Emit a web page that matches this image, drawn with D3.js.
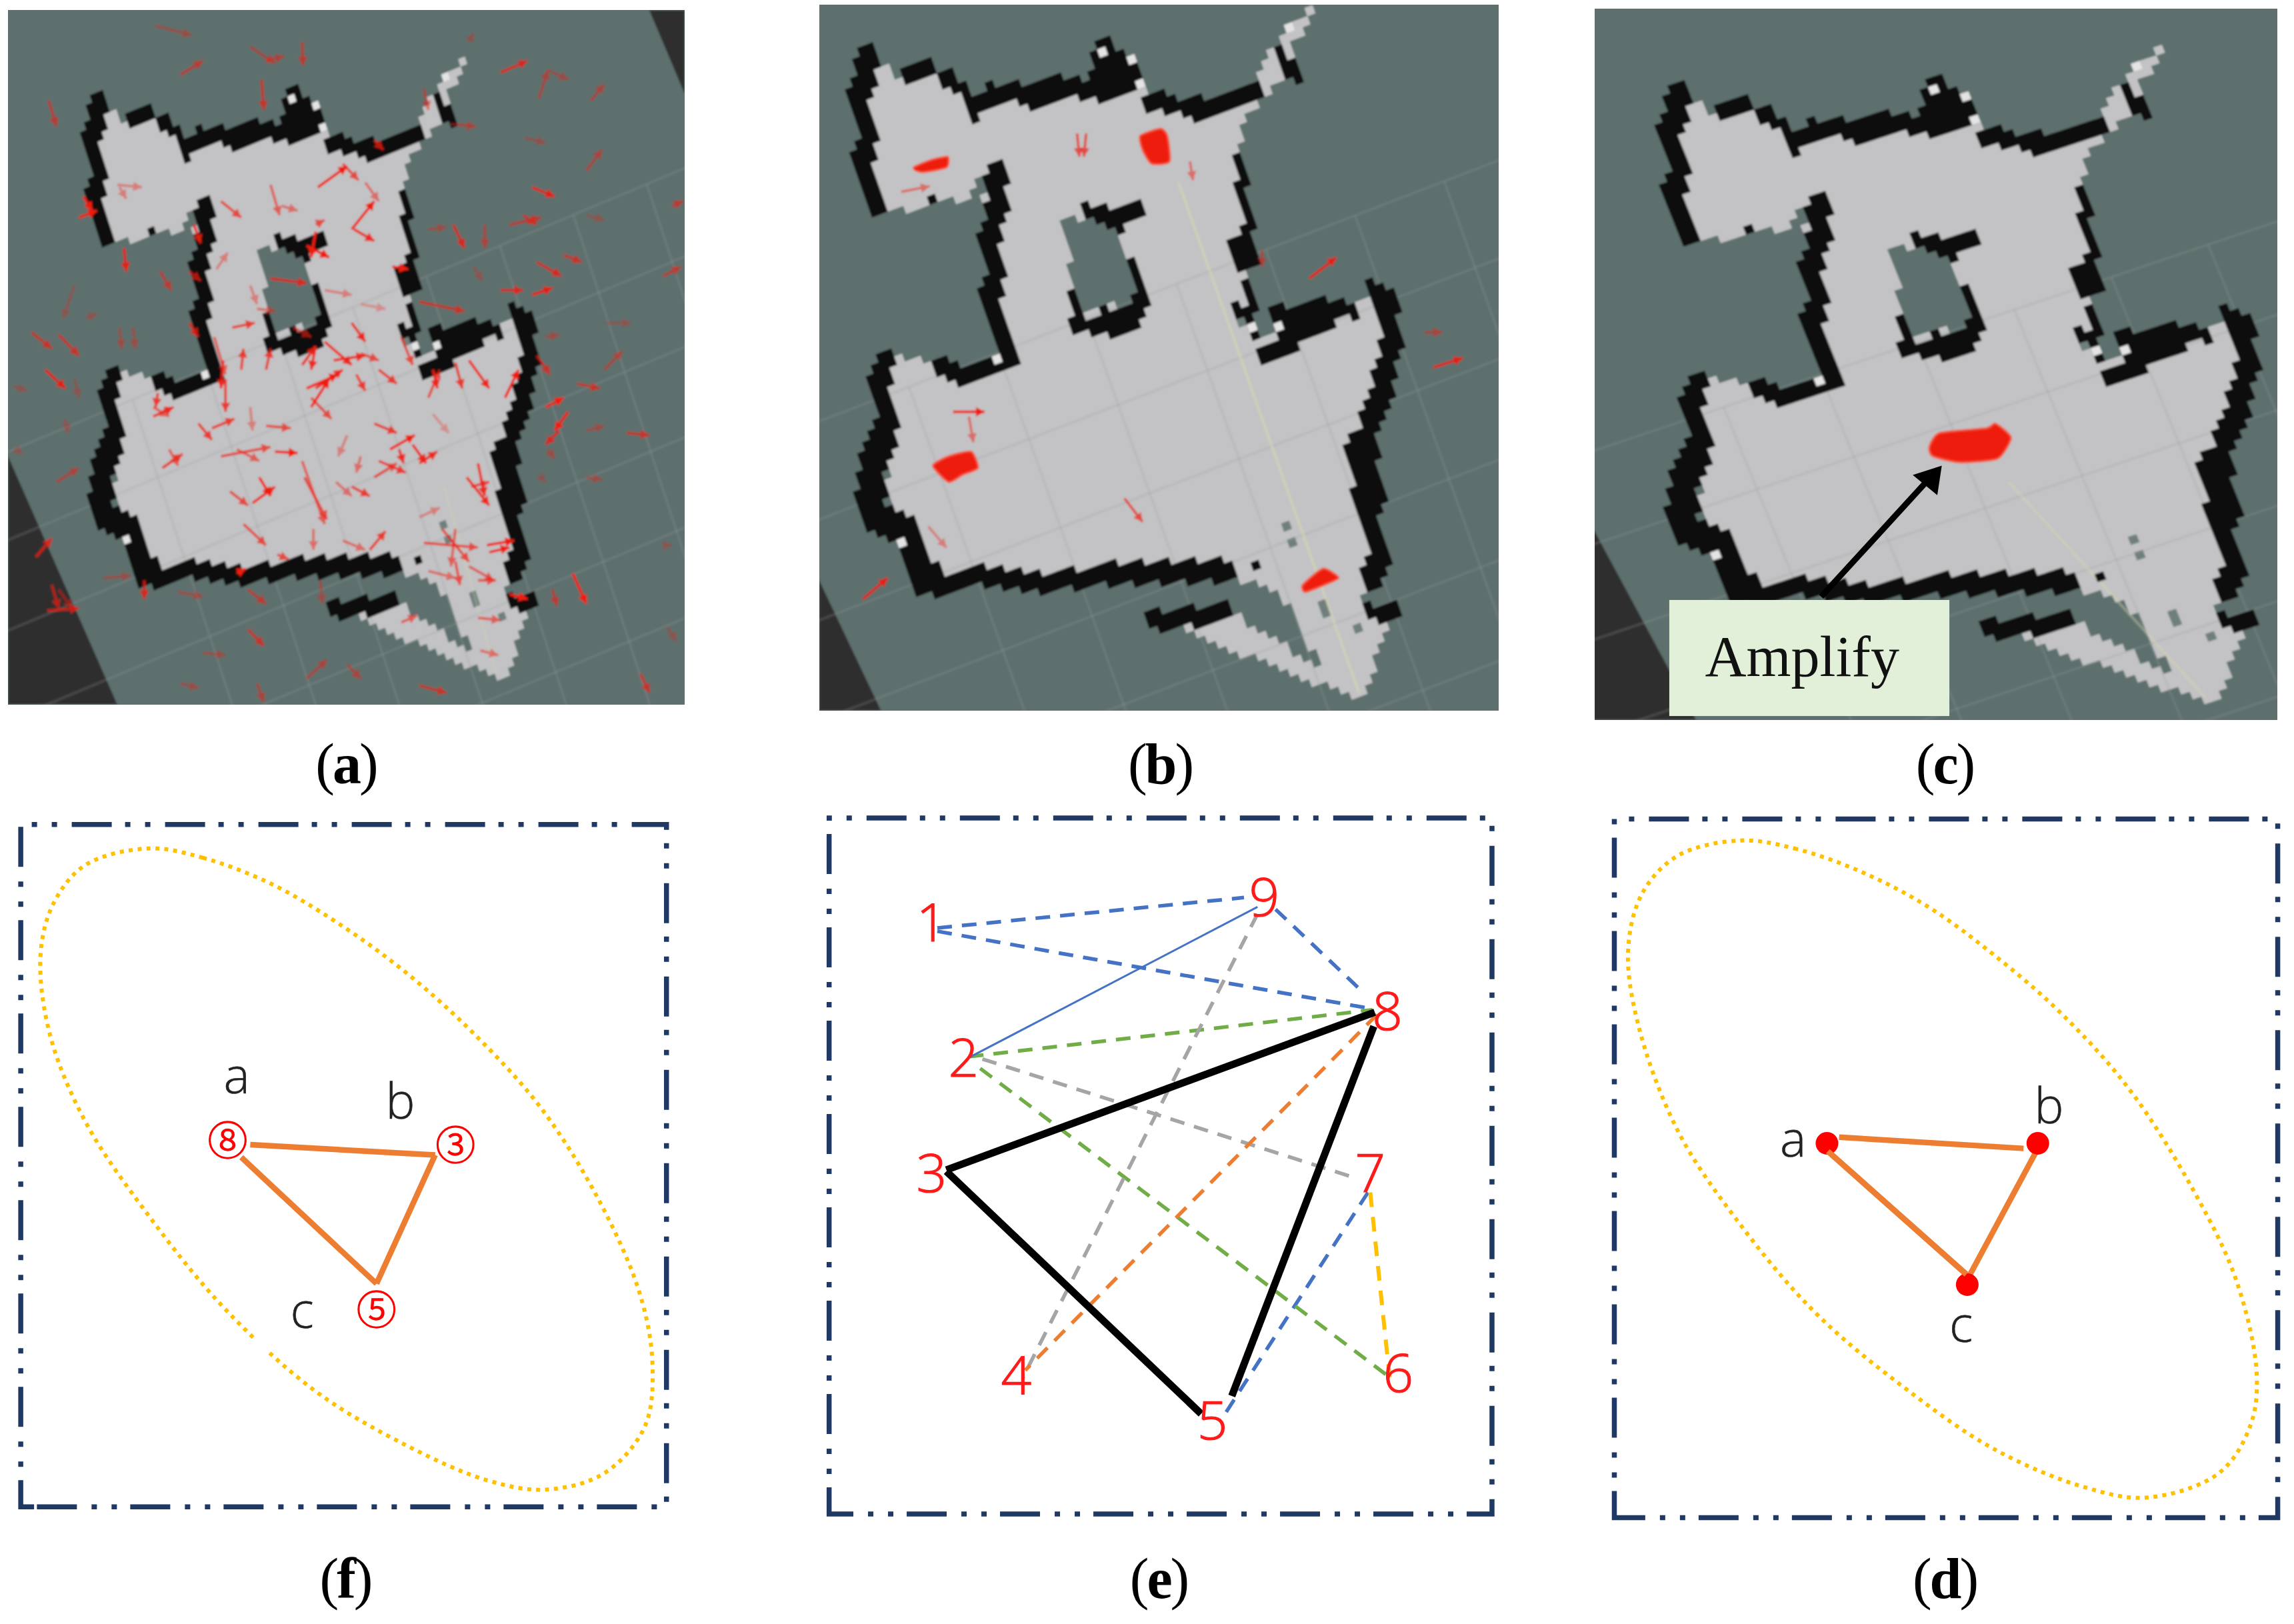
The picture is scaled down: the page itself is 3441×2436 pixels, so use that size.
<!DOCTYPE html>
<html>
<head>
<meta charset="utf-8">
<title>Particle filter localization</title>
<script src="https://cdn.jsdelivr.net/npm/d3@7"></script>
<style>
  body { margin: 0; background: #fff; }
  text { font-family: "Open Sans", "Noto Sans", sans-serif; font-weight: 300; }
  .caption { font-family: "Liberation Serif", serif; font-weight: 400; fill: #000; font-size: 86px; letter-spacing: -3px; }
  .caption .letter { font-weight: 700; }
</style>
</head>
<body>
<div id="chart"></div>
<script>
// ---- map, in crop pixels ----
const floorOutline = [[122,112],[195,170],[280,150],[345,205],[360,238],[470,212],[620,188],[735,195],[840,235],[970,195],[1015,110],[1095,18],[1110,25],[1065,90],[1065,160],[985,215],[960,260],[930,340],[955,470],[975,660],[985,720],[1210,640],[1250,640],[1275,800],[1215,930],[1240,1100],[1225,1240],[1220,1300],[1280,1320],[1215,1495],[1195,1490],[790,1335],[915,1300],[1130,1435],[1040,1270],[915,1225],[255,1240],[170,1060],[150,900],[165,757],[245,775],[300,800],[420,760],[370,360],[350,420],[175,452],[120,330]];
const islandHole = [[555,470],[620,460],[660,490],[710,560],[712,640],[600,672],[590,630],[555,520]];
const wallsThick = [
  [[110,112],[88,210],[112,270],[92,350],[122,430]],
  [[392,355],[396,440],[372,520],[392,580],[372,640],[400,700],[418,765]],
  [[410,775],[300,795],[270,775]],
  [[150,765],[132,820],[155,900],[125,1000],[130,1090],[190,1115],[232,1190],[258,1240]],
  [[245,1245],[370,1225],[510,1240],[640,1220],[780,1215],[905,1212]],
  [[1240,615],[1272,710],[1250,830],[1212,930],[1232,1060],[1210,1085],[1248,1180],[1222,1235]],
  [[630,105],[630,185]],[[665,125],[665,180]],[[695,130],[700,175]],
  [[990,745],[1135,685]],[[1020,672],[1110,655]],
  [[470,205],[560,175]],[[840,225],[975,195]]
];
const wallsHeavy = [
  [[155,900],[125,1000],[130,1090]],
  [[130,1095],[190,1120],[232,1195],[250,1240]],
  [[1208,930],[1228,1060]]
];
const wallsThin = [
  [[202,160],[250,145]],[[292,160],[340,190]],
  [[350,228],[390,190],[420,195],[560,172],[610,182]],
  [[740,205],[830,225],[975,195]],
  [[1040,110],[1060,150]],[[935,330],[965,470]],
  [[920,525],[950,500],[972,550],[940,545],[920,525]],
  [[958,600],[975,632]],[[945,650],[965,700]],[[1160,655],[1195,650]],
  [[595,440],[680,462],[718,440]],[[715,565],[730,600],[715,650]],
  [[580,635],[592,665],[570,682],[640,692],[720,682]],[[640,672],[712,660]],
  [[745,1320],[820,1312],[910,1300]],[[1225,1300],[1285,1302]],[[1240,610],[1285,640]]
];
const wallDots = [[975,1210],[262,430],[635,95]];
const whiteCells = [[645,115],[702,130],[730,185],[200,1160],[410,770],[1035,690],[975,690],[1060,60]];
const greyCells = [[1060,1130],[1060,1155],[1135,1295],[1135,1315],[1205,1350],[935,655],[945,680]];

// grid lines of the floor plan, y = c - .37x and x = d + .37y
const gridRows = [905,1115,1330,1545,1760,1975,2190];
const gridCols = [-94,131,356,581,806,1031,1256,1481];

// red particles, x1,y1,x2,y2,strength, panel crop pixels
const particlesA = [
[345,55,425,75,.4],[555,100,610,135,.5],[590,130,630,120,.5],[670,90,672,140,.6],[400,160,450,130,.6],[580,170,585,235,.7],
[108,215,125,270,.6],[1110,155,1170,130,.8],[1195,210,1215,150,.5],[1215,150,1260,170,.4],[1310,215,1340,180,.5],[1165,295,1210,305,.35],[1300,365,1335,320,.5],[1180,400,1230,420,.9],[1000,265,1055,270,.5],[940,190,950,235,.5],[1040,90,1050,70,.3],
[1490,440,1515,430,.6],[1470,590,1510,570,.6],[1300,460,1340,470,.3],[1130,480,1200,465,.6],[1160,460,1190,480,.7],[950,490,990,485,.4],[1005,480,1030,530,.8],[1075,480,1075,530,.5],[1250,545,1290,560,.7],[1190,560,1245,590,.8],[1110,620,1160,620,.8],[1180,630,1225,615,.9],[1050,570,1070,600,.3],[930,645,1030,665,.7],[1210,720,1240,715,.4],[1345,690,1400,690,.3],[1190,760,1220,800,.7],[1340,790,1380,750,.5],[1280,820,1330,830,.7],[1210,870,1250,850,1],[1260,880,1230,920,1],[1240,920,1210,950,.8],[1300,920,1340,910,.4],[1390,925,1440,930,.7],[1215,960,1230,980,.4],[1300,1020,1335,1025,.4],[1200,1020,1210,1030,.3],[1470,1165,1490,1165,.3],[1270,1225,1300,1290,1],[1225,1260,1235,1295,.6],[1130,1270,1170,1280,1],[1420,1440,1440,1480,.7],[1480,1340,1500,1370,.3],
[165,610,140,680,.3],[190,680,215,670,.3],[70,710,115,745,.7],[130,715,175,760,.7],[100,790,145,830,.9],[30,825,60,835,.3],[165,810,175,850,.3],[145,895,150,925,.3],[265,700,270,745,.4],[295,700,300,745,.4],[275,530,280,580,.9],[355,580,380,620,.6],[125,1030,175,1000,.5],[35,960,50,970,.3],[80,1190,115,1150,.8],[115,1250,130,1300,.7],[105,1305,175,1300,.8],[130,1260,160,1300,.5],
[230,1235,290,1230,.4],[320,1240,320,1280,.8],[395,1265,450,1275,.4],[550,1260,590,1290,.6],[550,1345,585,1380,.7],[450,1395,500,1400,.4],[680,1450,725,1410,.5],[770,1420,800,1450,.5],[400,1460,440,1470,.4],[570,1460,585,1500,.5],[930,1465,990,1480,.7],[710,1240,715,1290,.4],
[265,400,280,425,.4],[260,395,315,400,.4],[175,465,215,450,1],[185,420,205,450,1],
[490,430,535,465,.7],[600,395,620,460,.6],[625,440,660,450,.5],[705,400,770,355,1],[760,350,795,385,.7],[810,390,840,430,.5],[780,490,830,430,1],[785,490,830,515,.9],[700,480,720,470,.7],[680,525,730,550,1],[700,495,690,550,1],[480,575,505,540,.4],[430,480,445,520,.9],[420,580,445,600,.7],[600,595,680,605,.8],[555,610,570,650,.4],[720,620,780,630,.4],[800,650,855,660,.3],[570,660,610,665,.5],[515,700,565,690,.8],[420,690,440,720,.8],
[475,720,500,800,.6],[495,770,490,830,.9],[500,810,500,880,.8],[535,790,540,745,.8],[590,790,600,745,.8],[650,700,690,720,.6],[670,780,700,740,.9],[700,740,690,790,.9],[720,730,780,780,.9],[740,770,810,760,.9],[780,690,810,730,.9],[800,755,840,770,.7],[840,790,880,820,.8],[790,800,810,835,.8],[680,830,750,800,1],[700,830,760,790,.9],[690,870,730,810,1],[690,850,735,895,.7],[890,720,915,780,.7],[960,790,970,830,.9],[1010,775,1025,830,.8],[1040,770,1085,830,.9],[1120,850,1150,790,1],[950,850,975,790,.7],[350,840,345,870,.8],[340,890,385,870,.9],[340,870,375,890,.6],[440,905,470,940,.8],[470,915,520,895,.8],[555,870,560,920,.4],[590,910,645,915,.7],[770,930,750,975,.4],
[490,975,600,955,.7],[525,960,575,985,.6],[610,965,660,968,1],[360,1000,405,970,.8],[375,960,395,995,.6],[670,985,720,1120,.6],[675,1020,725,1110,.7],[830,905,880,925,.8],[865,960,920,930,1],[885,960,895,990,.9],[915,950,945,990,.9],[930,990,970,965,.9],[960,885,995,925,.3],[800,975,790,1010,.5],[840,985,900,1010,.8],[830,1020,880,990,.7],[745,1030,780,1060,.5],[780,1040,820,1060,.8],[1035,1020,1085,1080,.9],[1060,990,1075,1060,.9],[1045,1040,1085,1030,.8],[510,1050,550,1080,.7],[575,1020,600,1060,1],[560,1075,610,1040,.9],[695,1130,695,1175,.5],[540,1120,590,1165,.7],[930,1105,975,1085,.4],[760,1155,810,1175,.5],[820,1175,855,1135,.8],[615,1185,640,1195,.7],[525,1225,545,1215,1],
[940,1160,1060,1170,.7],[980,1130,1040,1200,.7],[1010,1130,1000,1210,.6],[1080,1165,1140,1155,1],[950,1220,1010,1235,.5],[1010,1200,1020,1250,.7],[1040,1210,1095,1240,.6],[1060,1240,1100,1240,.7],[1060,1320,1110,1325,.6],[890,1330,925,1315,.6],[1065,1390,1105,1400,.5],[1085,1180,1130,1170,1],[870,570,905,575,1],[830,300,850,320,.8]
];
const particlesB = [[195,410,258,398,.5],[225,362,295,345,1],[585,285,590,335,.7],[605,285,600,335,.7],[835,345,842,385,.5],[995,535,995,570,.5],[1100,595,1160,550,.9],[1355,710,1395,710,.5],[1375,785,1440,765,.9],[310,880,380,880,1],[345,890,355,945,.5],[690,1065,730,1115,.7],[255,1125,295,1170,.4],[110,1280,165,1235,.9]];
const particlesC = [];

const blobsB = [
  [[725,290],[770,275],[785,290],[790,345],[750,350],[730,320]],
  [[265,995],[300,975],[350,965],[365,1000],[330,1015],[300,1030]],
  [[1085,1250],[1130,1215],[1165,1235],[1120,1255],[1090,1265]],
  [[222,358],[260,342],[298,335],[295,358],[240,368]]
];
const blobsC = [[[752,955],[775,925],[880,915],[900,905],[935,935],[905,980],[820,988],[760,975]]];

// ---- the three bottom diagrams ----
const nodeLabels = ["1","2","3","4","5","6","7","8","9"];
const nodeX = [262,333,262,450,885,1297,1235,1273,1000];
const nodeY = [233,522,768,1200,1297,1195,768,422,178];
const dashedBlue = [[275,245,955,180],[275,252,1240,418],[1025,205,1222,385],[1230,810,915,1280]];
const dashedGreen = [[345,520,1240,420],[370,545,1285,1210]];
const dashedGrey = [[375,525,1205,780],[985,215,465,1205]];
const dashedOrange = [[1250,430,470,1190]];
const dashedYellow = [[1235,810,1278,1205]];
const solidBlue = [[345,522,985,200]];
const solidBlack = [[295,762,1245,425],[295,765,860,1283],[1243,455,928,1245]];

const triangleF = [[555,708,965,730],[965,730,835,1005],[835,1005,535,735]];
const triangleD = [[550,692,963,716],[990,725,835,1000],[835,985,525,722]];
const circledF = [["⑧",505,700],["③",1010,710],["⑤",835,1062]];
const lettersF = [["a",525,560],["b",888,615],["c",670,1062]];
const dotsD = [[523,705],[995,705],[837,1007]];
const lettersD = [["a",447,695],["b",1020,625],["c",823,1092]];
const ringF = [[330,75],[450,95],[600,150],[750,235],[900,340],[1050,470],[1200,630],[1330,830],[1420,1030],[1447,1180],[1430,1310],[1340,1410],[1210,1445],[1080,1425],[900,1350],[700,1235],[500,1060],[330,860],[190,660],[110,470],[90,300],[120,190],[190,110]];
const ringD = [[330,58],[450,75],[600,125],[750,200],[900,305],[1050,430],[1200,590],[1340,800],[1440,1000],[1485,1200],[1470,1310],[1400,1410],[1240,1462],[1100,1440],[900,1360],[700,1230],[500,1070],[330,880],[190,680],[100,450],[78,290],[110,170],[190,90]];

const captionsTop = ["a","b","c"];
const captionsBottom = ["f","e","d"];

const W = 3441, H = 2436;
const svg = d3.select("#chart").append("svg").attr("width", W).attr("height", H).style("display", "block");
svg.append("rect").attr("width", W).attr("height", H).attr("fill", "#fff");
const defs = svg.append("defs");
defs.append("filter").attr("id", "soft").attr("x", "-2%").attr("y", "-2%").attr("width", "104%").attr("height", "104%")
  .append("feGaussianBlur").attr("stdDeviation", 1.7);

const BG = "#5d6f6d", FLOOR = "#c3c3c5", DARK = "#2e2e2e", WALL = "#0b0b0b", RED = "#ee1c10";
const ry = .702, rxWide = .6764, rxNarrow = .6701;

// floor plan panels: crop origin, drawn box, and where the traced map lands inside the crop
const panels = [
  { id: "a", cx: 0, rx: rxWide, box: [12,15,1027,1057], mapX: [210,1025], mapY: [210,1450],
    corners: [[[18,975],[260,1505],[18,1505]],[[1440,22],[1518,22],[1518,200]]], parts: particlesA, blobs: [], trail: [[985,1040],[1100,1440]], trailAlpha: .25 },
  { id: "b", cx: 1220, rx: rxWide, box: [1229,7,2248,1066], mapX: [110,1100], mapY: [110,1490],
    corners: [[[13,1240],[150,1518],[13,1518]]], parts: particlesB, blobs: blobsB, trail: [[810,390],[1210,1480]], trailAlpha: .55 },
  { id: "c", cx: 2390, rx: rxNarrow, box: [2392,13,3416,1080], mapX: [180,1265], mapY: [190,1500],
    corners: [[[0,1130],[230,1538],[0,1538]]], parts: particlesC, blobs: blobsC, trail: [[930,1030],[1370,1490]], trailAlpha: .4 }
];

// occupancy cells sit on a rotated raster
const cell = 18.5, th = -20 * Math.PI / 180, ct = Math.cos(th), st = Math.sin(th);
const toCell = (x, y) => [Math.floor((x * ct + y * st) / cell), Math.floor((-x * st + y * ct) / cell)];
const fromCell = (u, v) => [u * ct - v * st, u * st + v * ct];
const key = (i, j) => i + "," + j;

function rasterLines(lines, stamp) {
  const out = new Map();
  lines.forEach(line => {
    d3.pairs(line).forEach(([p, q]) => {
      const n = Math.ceil(Math.hypot(q[0] - p[0], q[1] - p[1]) / (cell * .4));
      d3.range(n + 1).forEach(k => {
        const [i, j] = toCell(p[0] + (q[0] - p[0]) * k / n, p[1] + (q[1] - p[1]) * k / n);
        stamp.forEach(([a, b]) => out.set(key(i + a, j + b), [i + a, j + b]));
      });
    });
  });
  return [...out.values()];
}
function rasterFloor() {
  const out = [];
  d3.range(-60, 140).forEach(i => d3.range(-40, 140).forEach(j => {
    const c = fromCell((i + .5) * cell, (j + .5) * cell);
    if (d3.polygonContains(floorOutline, c) && !d3.polygonContains(islandHole, c)) out.push([i, j]);
  }));
  return out;
}
const floorCells = rasterFloor();
const wallCells = rasterLines(wallsThick, [[0,0],[1,0],[0,1],[1,1]]).concat(
  rasterLines(wallsHeavy, [[-1,0],[0,0],[1,0],[-1,1],[0,1],[1,1]]),
  rasterLines(wallsThin, [[0,0],[0,1]]),
  wallDots.map(d => toCell(d[0], d[1])));
const whites = whiteCells.map(d => toCell(d[0], d[1]));
const greys = greyCells.map(d => toCell(d[0], d[1]));

function drawPanel(p) {
  const g = svg.append("g");
  defs.append("clipPath").attr("id", "clip-" + p.id).append("rect")
    .attr("x", p.box[0]).attr("y", p.box[1]).attr("width", p.box[2] - p.box[0]).attr("height", p.box[3] - p.box[1]);
  const soft = g.append("g").attr("clip-path", `url(#clip-${p.id})`).append("g").attr("filter", "url(#soft)");

  const cropX = d3.scaleLinear([0, 1], [p.cx, p.cx + p.rx]);
  const cropY = d3.scaleLinear([0, 1], [0, ry]);
  const mx = d3.scaleLinear([110, 1100], p.mapX.map(cropX));
  const my = d3.scaleLinear([110, 1490], p.mapY.map(cropY));
  const line = d3.line().x(d => cropX(d[0])).y(d => cropY(d[1]));

  soft.append("rect").attr("x", p.box[0] - 10).attr("y", p.box[1] - 10)
    .attr("width", p.box[2] - p.box[0] + 20).attr("height", p.box[3] - p.box[1] + 20).attr("fill", BG);
  soft.selectAll(".corner").data(p.corners).join("path").attr("class", "corner")
    .attr("d", d => line(d) + "Z").attr("fill", DARK);

  const cellPath = cells => {
    const path = d3.path();
    cells.forEach(([i, j]) => {
      [[i, j], [i + 1.03, j], [i + 1.03, j + 1.03], [i, j + 1.03]].forEach((c, n) => {
        const q = fromCell(c[0] * cell, c[1] * cell);
        n ? path.lineTo(mx(q[0]), my(q[1])) : path.moveTo(mx(q[0]), my(q[1]));
      });
      path.closePath();
    });
    return path.toString();
  };
  soft.append("path").attr("d", cellPath(floorCells)).attr("fill", FLOOR);
  soft.append("path").attr("d", cellPath(greys)).attr("fill", "#6f7f7d");

  // grid is faint over both floor and background
  const gridLines = gridRows.map(c => [[-400, c + 148], [1900, c - 703]])
    .concat(gridCols.map(d => {
      const x0 = (d + 335) / 1.137;
      return [[x0, 905 - .37 * x0], [d + .37 * 2000, 2000]];
    }));
  soft.selectAll(".grid").data(gridLines).join("line").attr("class", "grid")
    .attr("x1", d => mx(d[0][0])).attr("y1", d => my(d[0][1]))
    .attr("x2", d => mx(d[1][0])).attr("y2", d => my(d[1][1]))
    .attr("stroke", "#9a9f9f").attr("stroke-opacity", .24).attr("stroke-width", 3.5);

  soft.append("line").datum(p.trail)
    .attr("x1", d => cropX(d[0][0])).attr("y1", d => cropY(d[0][1]))
    .attr("x2", d => cropX(d[1][0])).attr("y2", d => cropY(d[1][1]))
    .attr("stroke", "#d8d8ae").attr("stroke-width", 4).attr("stroke-opacity", p.trailAlpha);

  soft.append("path").attr("d", cellPath(wallCells)).attr("fill", WALL);
  soft.append("path").attr("d", cellPath(whites)).attr("fill", "#e4e4e4");

  const blobLine = d3.line().curve(d3.curveCardinalClosed.tension(.4)).x(d => cropX(d[0])).y(d => cropY(d[1]));
  soft.selectAll(".blob").data(p.blobs).join("path").attr("class", "blob")
    .attr("d", blobLine).attr("fill", RED).attr("stroke", "#f4553f").attr("stroke-width", 3);

  // particles: shaft with a small head
  const arrows = soft.selectAll(".particle").data(p.parts).join("g").attr("class", "particle").attr("opacity", d => d[4]);
  arrows.append("line")
    .attr("x1", d => cropX(d[0])).attr("y1", d => cropY(d[1]))
    .attr("x2", d => cropX(d[2])).attr("y2", d => cropY(d[3]))
    .attr("stroke", RED).attr("stroke-width", 4);
  arrows.append("path").attr("fill", RED).attr("d", d => {
    const x = cropX(d[2]), y = cropY(d[3]), a = Math.atan2(y - cropY(d[1]), x - cropX(d[0]));
    const s = 15, w = .5;
    return `M${x},${y}L${x - s * Math.cos(a - w)},${y - s * Math.sin(a - w)}L${x - s * Math.cos(a + w)},${y - s * Math.sin(a + w)}Z`;
  });
  return { cropX, cropY };
}
const drawn = panels.map(drawPanel);

// Amplify call-out on panel (c)
{
  const { cropX, cropY } = drawn[2];
  svg.append("rect").attr("x", cropX(170)).attr("y", cropY(1282)).attr("width", cropX(797) - cropX(170)).attr("height", cropY(1530) - cropY(1282)).attr("fill", "#e2efd9");
  svg.append("text").attr("x", cropX(250)).attr("y", cropY(1445)).text("Amplify")
    .style("font-family", "'Liberation Serif', serif").style("font-weight", 400).attr("font-size", 86).attr("fill", "#111");
  svg.append("line").attr("x1", cropX(510)).attr("y1", cropY(1275)).attr("x2", cropX(745)).attr("y2", cropY(1030))
    .attr("stroke", "#000").attr("stroke-width", 9);
  svg.append("path").attr("d", d3.line()([[cropX(780), cropY(995)], [cropX(715), cropY(1015)], [cropX(770), cropY(1058)]]) + "Z").attr("fill", "#000");
}

// captions
const capTop = [519, 1740, 2917], capBottom = [518, 1738, 2917];
const addCaption = (t, x, y) => {
  const c = svg.append("text").attr("class", "caption").attr("x", x).attr("y", y).attr("text-anchor", "middle");
  c.append("tspan").text("(");
  c.append("tspan").attr("class", "letter").text(t);
  c.append("tspan").text(")");
};
captionsTop.forEach((t, i) => addCaption(t, capTop[i], 1175));
captionsBottom.forEach((t, i) => addCaption(t, capBottom[i], 2397));

// dash-dot-dot frames, path starts just right of the lower left corner
function frame(x0, y0, x1, y1) {
  svg.append("path").attr("d", `M${x0 + 20},${y1}L${x0},${y1}L${x0},${y0}L${x1},${y0}L${x1},${y1}Z`)
    .attr("fill", "none").attr("stroke", "#1f3864").attr("stroke-width", 7.5)
    .attr("stroke-dasharray", "60 20 8 22 8 22");
}
const cropY2 = d3.scaleLinear([0, 1], [1220, 1220 + ry]);
const cropsBottom = { f: d3.scaleLinear([0, 1], [0, rxWide]), e: d3.scaleLinear([0, 1], [1220, 1220 + rxWide]), d: d3.scaleLinear([0, 1], [2390, 2390 + rxNarrow]) };
frame(cropsBottom.f(46), cropY2(24), cropsBottom.f(1478), cropY2(1482));
frame(cropsBottom.e(35), cropY2(10), cropsBottom.e(1505), cropY2(1497));
frame(cropsBottom.d(47), cropY2(12), cropsBottom.d(1532), cropY2(1505));

function segs(data, sx, color, width, dash) {
  svg.append("g").selectAll("line").data(data).join("line")
    .attr("x1", d => sx(d[0])).attr("y1", d => cropY2(d[1]))
    .attr("x2", d => sx(d[2])).attr("y2", d => cropY2(d[3]))
    .attr("stroke", color).attr("stroke-width", width).attr("stroke-dasharray", dash || null);
}
function labels(data, sx, color, size, fam, heavy) {
  svg.append("g").selectAll("text").data(data).join("text")
    .attr("x", d => sx(d[1])).attr("y", d => cropY2(d[2])).attr("dy", ".36em")
    .attr("text-anchor", "middle").attr("fill", color).attr("font-size", size)
    .attr("stroke", color).attr("stroke-width", heavy)
    .style("font-family", fam || null).text(d => d[0]);
}
function ring(points, sx) {
  const path = d3.line().curve(d3.curveCatmullRomClosed.alpha(.5)).x(d => sx(d[0])).y(d => cropY2(d[1]));
  svg.append("path").attr("d", path(points))
    .attr("fill", "none").attr("stroke", "#ffc000").attr("stroke-width", 6).attr("stroke-dasharray", "6 7.4");
}

// (f)
ring(ringF, cropsBottom.f);
svg.append("rect").attr("x", cropsBottom.f(565)).attr("y", cropY2(1120)).attr("width", 20).attr("height", 22).attr("fill", "#fff");
segs(triangleF, cropsBottom.f, "#ed7d31", 8.5);
labels(circledF, cropsBottom.f, "#ff0000", 60, "'Noto Sans CJK SC'", 1.4);
labels(lettersF, cropsBottom.f, "#222", 74, null, .6);

// (e)
segs(dashedBlue, cropsBottom.e, "#4472c4", 5.5, "22 15");
segs(dashedGreen, cropsBottom.e, "#70ad47", 5.5, "22 15");
segs(dashedGrey, cropsBottom.e, "#a5a5a5", 5.5, "22 15");
segs(dashedOrange, cropsBottom.e, "#ed7d31", 5.5, "22 15");
segs(dashedYellow, cropsBottom.e, "#ffc000", 6, "22 15");
segs(solidBlue, cropsBottom.e, "#4472c4", 3);
segs(solidBlack, cropsBottom.e, "#000", 11);
labels(nodeLabels.map((t, i) => [t, nodeX[i], nodeY[i]]), cropsBottom.e, "#ff1a1a", 80, null, 1.2);

// (d)
ring(ringD, cropsBottom.d);
segs(triangleD, cropsBottom.d, "#ed7d31", 8.5);
svg.append("g").selectAll("circle").data(dotsD).join("circle")
  .attr("cx", d => cropsBottom.d(d[0])).attr("cy", d => cropY2(d[1])).attr("r", 17).attr("fill", "#ff0000");
segs(triangleD.slice(2), cropsBottom.d, "#ed7d31", 8.5);
labels(lettersD, cropsBottom.d, "#222", 74, null, .6);
</script>
</body>
</html>
